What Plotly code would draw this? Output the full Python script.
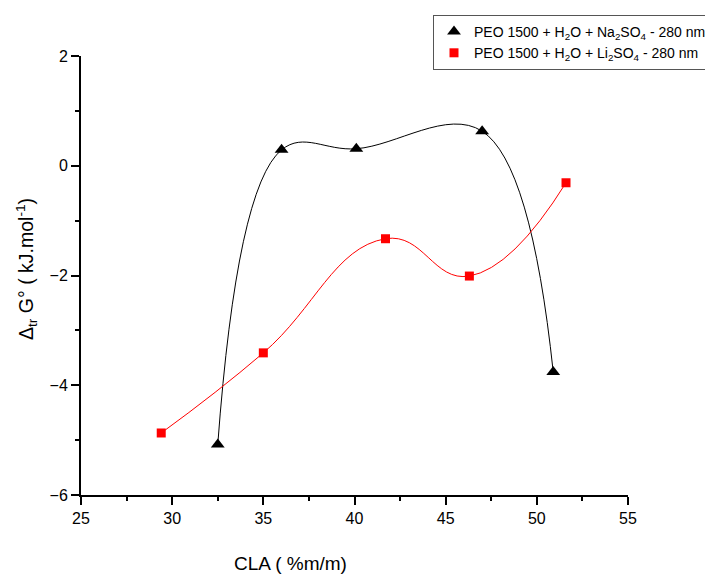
import plotly.graph_objects as go

# Data
na_x = [32.5, 36.0, 40.1, 47.0, 50.9]
na_y = [-5.08, 0.29, 0.31, 0.63, -3.76]
li_x = [29.4, 35.0, 41.7, 46.3, 51.6]
li_y = [-4.87, -3.41, -1.33, -2.01, -0.31]

na_name = "PEO 1500 + H<sub>2</sub>O + Na<sub>2</sub>SO<sub>4</sub> - 280 nm"
li_name = "PEO 1500 + H<sub>2</sub>O + Li<sub>2</sub>SO<sub>4</sub> - 280 nm"

x_ticks = [25, 30, 35, 40, 45, 50, 55]
y_ticks = [-6, -4, -2, 0, 2]

FONT = "Liberation Sans, Arial, sans-serif"

fig = go.Figure()
fig.add_trace(go.Scatter(x=na_x, y=na_y, mode="lines+markers", showlegend=False,
                         line=dict(color="black", width=1, shape="spline", smoothing=1.1),
                         marker=dict(symbol="triangle-up", size=12, color="black")))
fig.add_trace(go.Scatter(x=li_x, y=li_y, mode="lines+markers", showlegend=False,
                         line=dict(color="#ff0000", width=1, shape="spline", smoothing=1.3),
                         marker=dict(symbol="square", size=9, color="#ff0000")))
# legend entries (markers only)
fig.add_trace(go.Scatter(x=[None], y=[None], mode="markers", name=na_name,
                         marker=dict(symbol="triangle-up", size=12, color="black")))
fig.add_trace(go.Scatter(x=[None], y=[None], mode="markers", name=li_name,
                         marker=dict(symbol="square", size=9, color="#ff0000")))

# The page body adds an 8px offset; plot area in the window is x 81-628, y 56-495
fig.update_layout(
    width=713, height=576,
    margin=dict(l=73, r=93, t=48, b=89, autoexpand=False),
    paper_bgcolor="white", plot_bgcolor="white",
    font=dict(family=FONT, size=16, color="black"),
    showlegend=True,
    legend=dict(x=(425 - 73) / 547, y=(487 - 7) / 439, xanchor="left", yanchor="top",
                bordercolor="#555", borderwidth=1, bgcolor="white",
                font=dict(size=14, family=FONT), tracegroupgap=0,
                itemwidth=30),
    xaxis=dict(range=[25, 55], tickvals=x_ticks, showline=True, linecolor="black",
               linewidth=2, ticks="outside", ticklen=8, tickwidth=1.5, tickcolor="black",
               showgrid=False, zeroline=False,
               minor=dict(tickvals=[27.5, 32.5, 37.5, 42.5, 47.5, 52.5], ticks="outside",
                          ticklen=4, tickwidth=1.5, tickcolor="black")),
    yaxis=dict(range=[-6, 2], tickvals=y_ticks, showline=True, linecolor="black",
               linewidth=2, ticks="outside", ticklen=8, tickwidth=1.5, tickcolor="black",
               showgrid=False, zeroline=False,
               minor=dict(tickvals=[-5, -3, -1, 1], ticks="outside",
                          ticklen=4, tickwidth=1.5, tickcolor="black")),
    annotations=[
        dict(text="CLA ( %m/m)", x=(290 - 81) / 547, y=0, xref="paper", yref="paper",
             xanchor="center", yanchor="middle", yshift=-68, showarrow=False,
             font=dict(size=19, family=FONT)),
        dict(text="Δ<sub>tr</sub> G° ( kJ.mol<sup>-1</sup>)", x=0, y=(495 - 269) / 439,
             xref="paper", yref="paper", xanchor="center", yanchor="middle",
             xshift=-55, textangle=-90, showarrow=False, font=dict(size=19.5, family=FONT)),
    ],
)

fig.write_html("out.html")
